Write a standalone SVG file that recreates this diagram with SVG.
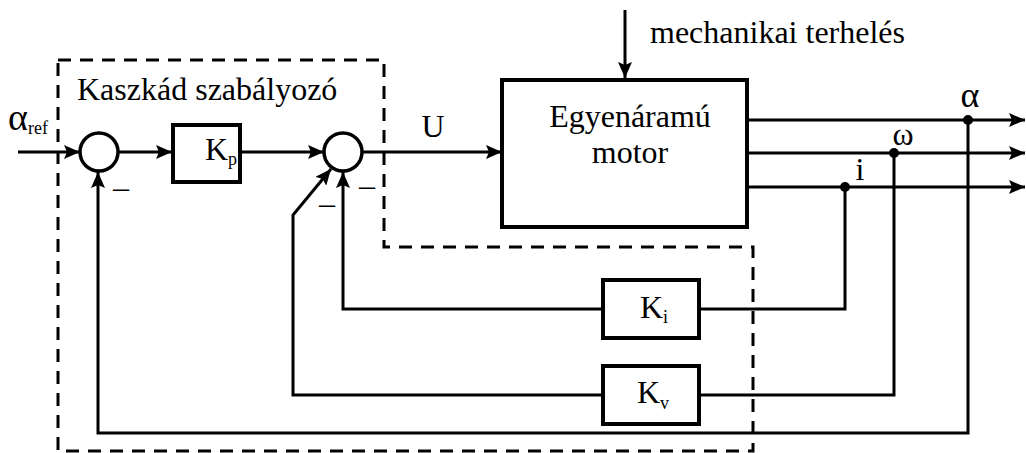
<svg xmlns="http://www.w3.org/2000/svg" width="1026" height="453" viewBox="0 0 1026 453">
<style>
.ln{fill:none;stroke:#000;stroke-width:3}
.bx{fill:#fff;stroke:#000;stroke-width:4}
.sum{fill:#fff;stroke:#000;stroke-width:3.5}
.dash{fill:none;stroke:#000;stroke-width:3;stroke-dasharray:13 9}
.t{font-family:"Liberation Serif",serif;font-size:32px;fill:#000}
.sub{font-size:18px}
.dot{fill:#000}
</style>
<defs>
<marker id="ah" viewBox="0 0 16 14" refX="16" refY="7" markerWidth="16" markerHeight="14" markerUnits="userSpaceOnUse" orient="auto">
<path d="M0,0 L16,7 L0,14 L3,7 Z" fill="#000"/>
</marker>
</defs>
<rect width="1026" height="453" fill="#fff"/>

<g id="controller-boundary">
<path class="dash" d="M58,60 H384 V247 H753 V451 H58 Z"/>
<text class="t" x="77" y="100">Kaszkád szabályozó</text>
</g>

<g id="connectors">
<line class="ln" x1="18" y1="152" x2="80" y2="152" marker-end="url(#ah)"/>
<line class="ln" x1="118" y1="152" x2="172" y2="152" marker-end="url(#ah)"/>
<line class="ln" x1="240" y1="152" x2="324" y2="152" marker-end="url(#ah)"/>
<line class="ln" x1="362" y1="152" x2="502" y2="152" marker-end="url(#ah)"/>
<line class="ln" x1="625" y1="10" x2="625" y2="78" marker-end="url(#ah)"/>
<line class="ln" x1="747" y1="120" x2="1025" y2="120" marker-end="url(#ah)"/>
<line class="ln" x1="747" y1="153" x2="1025" y2="153" marker-end="url(#ah)"/>
<line class="ln" x1="747" y1="187" x2="1025" y2="187" marker-end="url(#ah)"/>
<polyline class="ln" points="845,187 845,309 699,309"/>
<polyline class="ln" points="603,309 343,309 343,172" marker-end="url(#ah)"/>
<polyline class="ln" points="894,153 894,395 699,395"/>
<polyline class="ln" points="603,395 293,395 293,215 331,169" marker-end="url(#ah)"/>
<polyline class="ln" points="968,120 968,433 98,433 98,172" marker-end="url(#ah)"/>
<circle class="dot" cx="968" cy="120" r="5"/>
<circle class="dot" cx="894" cy="153" r="5"/>
<circle class="dot" cx="845" cy="187" r="5"/>
</g>

<g id="input-label">
<text class="t" x="8" y="130" style="font-size:38px">α<tspan dy="4" style="font-size:18px">ref</tspan></text>
</g>

<g id="sum1">
<circle class="sum" cx="99" cy="152" r="19"/>
<text class="t" x="121" y="198" text-anchor="middle">–</text>
</g>

<g id="kp">
<rect class="bx" x="173" y="125" width="67" height="57"/>
<text class="t" x="205" y="160">K<tspan class="sub" dy="5">p</tspan></text>
</g>

<g id="sum2">
<circle class="sum" cx="343" cy="152" r="19"/>
<text class="t" x="327" y="214" text-anchor="middle">–</text>
<text class="t" x="367" y="196" text-anchor="middle">–</text>
</g>

<g id="u-label">
<text class="t" x="433" y="137" text-anchor="middle">U</text>
</g>

<g id="load">
<text class="t" x="650" y="43">mechanikai terhelés</text>
</g>

<g id="motor">
<rect class="bx" x="502" y="80" width="245" height="147"/>
<text class="t" x="630" y="127" text-anchor="middle">Egyenáramú</text>
<text class="t" x="630" y="163" text-anchor="middle">motor</text>
</g>

<g id="output-labels">
<text class="t" x="970" y="107" text-anchor="middle" style="font-size:36px">α</text>
<text class="t" x="903" y="145" text-anchor="middle">ω</text>
<text class="t" x="860" y="180" text-anchor="middle">i</text>
</g>

<g id="ki">
<rect class="bx" x="603" y="280" width="96" height="58"/>
<text class="t" x="640" y="318">K<tspan class="sub" dy="5">i</tspan></text>
</g>

<g id="kv">
<rect class="bx" x="603" y="366" width="96" height="58"/>
<text class="t" x="637" y="403">K<tspan class="sub" dy="6">v</tspan></text>
</g>
</svg>
